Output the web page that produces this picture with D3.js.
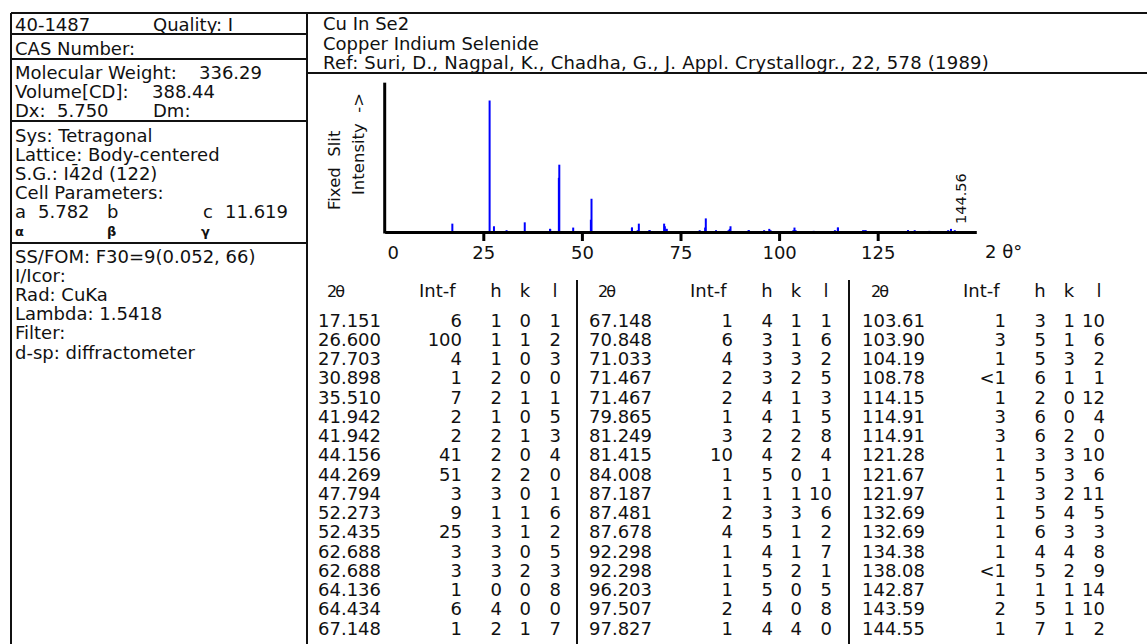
<!DOCTYPE html>
<html>
<head>
<meta charset="utf-8">
<script src="https://cdn.jsdelivr.net/npm/d3@7"></script>
<style>
  html, body { margin: 0; padding: 0; background: #fff; }
  svg text { font-family: "DejaVu Sans", sans-serif; fill: #111; white-space: pre; }
</style>
</head>
<body>
<svg id="card" width="1147" height="644"></svg>
<script>
// ---- Reflection list (CuInSe2, Cu Ka) ----
const twoTheta = [
  17.151, 26.600, 27.703, 30.898, 35.510, 41.942, 41.942, 44.156, 44.269, 47.794, 52.273, 52.435, 62.688, 62.688, 64.136, 64.434, 67.148,
  67.148, 70.848, 71.033, 71.467, 71.467, 79.865, 81.249, 81.415, 84.008, 87.187, 87.481, 87.678, 92.298, 92.298, 96.203, 97.507, 97.827,
  103.61, 103.90, 104.19, 108.78, 114.15, 114.91, 114.91, 121.28, 121.67, 121.97, 132.69, 132.69, 134.38, 138.08, 142.87, 143.59, 144.55
];
// relative intensity; 0.5 stands for "<1"
const intensity = [
  6, 100, 4, 1, 7, 2, 2, 41, 51, 3, 9, 25, 3, 3, 1, 6, 1,
  1, 6, 4, 2, 2, 1, 3, 10, 1, 1, 2, 4, 1, 1, 1, 2, 1,
  1, 3, 1, 0.5, 1, 3, 3, 1, 1, 1, 1, 1, 1, 0.5, 1, 2, 1
];
const millerH = [
  1, 1, 1, 2, 2, 1, 2, 2, 2, 3, 1, 3, 3, 3, 0, 4, 2,
  4, 3, 3, 3, 4, 4, 2, 4, 5, 1, 3, 5, 4, 5, 5, 4, 4,
  3, 5, 5, 6, 2, 6, 6, 3, 5, 3, 5, 6, 4, 5, 1, 5, 7
];
const millerK = [
  0, 1, 0, 0, 1, 0, 1, 0, 2, 0, 1, 1, 0, 2, 0, 0, 1,
  1, 1, 3, 2, 1, 1, 2, 2, 0, 1, 3, 1, 1, 2, 0, 0, 4,
  1, 1, 3, 1, 0, 0, 2, 3, 3, 2, 4, 3, 4, 2, 1, 1, 1
];
const millerL = [
  1, 2, 3, 0, 1, 5, 3, 4, 0, 1, 6, 2, 5, 3, 8, 0, 7,
  1, 6, 2, 5, 3, 5, 8, 4, 1, 10, 6, 2, 7, 1, 5, 8, 0,
  10, 6, 2, 1, 12, 4, 0, 10, 6, 11, 5, 3, 8, 9, 14, 10, 2
];
const rowsPerColumn = 17;
const xTicks = [0, 25, 50, 75, 100, 125];
const markedPeak = 144.56;

// ---- Card header texts ----
const headerLeft = ["40-1487", "Quality: I", "CAS Number:"];
const physData = ["Molecular Weight:", "336.29", "Volume[CD]:", "388.44", "Dx:", "5.750", "Dm:"];
const cellData = ["Sys: Tetragonal", "Lattice: Body-centered", "S.G.: I4\u03042d (122)", "Cell Parameters:",
                  "a", "5.782", "b", "c", "11.619"];
const angleSymbols = ["\u03b1", "\u03b2", "\u03b3"];
const expData = ["SS/FOM: F30=9(0.052, 66)", "I/Icor:", "Rad: CuKa", "Lambda: 1.5418", "Filter:", "d-sp: diffractometer"];
const titleLines = ["Cu In Se2", "Copper Indium Selenide",
  "Ref: Suri, D., Nagpal, K., Chadha, G., J. Appl. Crystallogr., 22, 578 (1989)"];
const tableHeads = ["2\u03b8", "Int-f", "h", "k", "l"];

// ---- drawing ----
const W = 1147, H = 644;
const ink = "#111";
const svg = d3.select("#card");
const FS = 18;

function hline(x1, x2, y, w = 2) {
  svg.append("line").attr("x1", x1).attr("x2", x2).attr("y1", y).attr("y2", y)
    .attr("stroke", ink).attr("stroke-width", w);
}
function vline(x, y1, y2, w = 2) {
  svg.append("line").attr("x1", x).attr("x2", x).attr("y1", y1).attr("y2", y2)
    .attr("stroke", ink).attr("stroke-width", w);
}
function txt(x, y, s, o = {}) {
  return svg.append("text").attr("x", x).attr("y", y)
    .attr("font-size", o.size || FS)
    .attr("text-anchor", o.anchor || "start")
    .attr("font-weight", o.weight || "normal")
    .attr("letter-spacing", o.ls || 0)
    .text(s);
}

// frame
const L = 11, T = 13, DIV = 307;
hline(L, W, T);
vline(L, T, H);
vline(DIV, T, H);
[34, 59, 121, 243].forEach(y => hline(L, DIV, y));
hline(DIV, W, 73);

// left information panel
const px = 15;
txt(px, 30.5, headerLeft[0]);
txt(153, 30.5, headerLeft[1]);
txt(px, 55, headerLeft[2]);

txt(px, 79, physData[0]); txt(199, 79, physData[1]);
txt(px, 98, physData[2]); txt(152, 98, physData[3]);
txt(px, 117, physData[4]); txt(57, 117, physData[5]); txt(153, 117, physData[6]);

const cellY0 = 141.5, step = 19.2;
txt(px, cellY0, cellData[0]);
txt(px, cellY0 + step, cellData[1]);
txt(px, cellY0 + 2 * step, cellData[2]);
txt(px, cellY0 + 3 * step, cellData[3]);
const aY = cellY0 + 4 * step;
txt(px, aY, cellData[4]); txt(38, aY, cellData[5]); txt(107, aY, cellData[6]);
txt(203, aY, cellData[7]); txt(225, aY, cellData[8]);

[px, 107, 201].forEach((x, i) => txt(x, 236, angleSymbols[i], { size: 13, weight: "bold" }));

expData.forEach((s, i) => txt(px, 263 + i * 19.1, s));

// title block
[30, 49.5, 68.5].forEach((yy, i) => txt(323, yy, titleLines[i], { ls: i === 2 ? 0.22 : 0 }));

// ---- stick pattern ----
const x = d3.scaleLinear().domain([0, 150]).range([384.7, 976.3]);
const y = d3.scaleLinear().domain([0, 100]).range([232, 101]);
const yTop = 114;

const chart = svg.append("g");
chart.selectAll("line.peak")
  .data(twoTheta.map((t, i) => ({ t, v: intensity[i] })))
  .join("line")
  .attr("class", "peak")
  .attr("x1", d => x(d.t)).attr("x2", d => x(d.t))
  .attr("y1", y(0)).attr("y2", d => y(d.v) - 0.5)
  .attr("stroke", "#0000ff").attr("stroke-width", 2);

// x axis
const xAxis = d3.axisBottom(x).tickValues(xTicks).tickSize(9).tickSizeOuter(0).tickPadding(5);
const gx = chart.append("g").attr("transform", `translate(0,${y(0)})`).call(xAxis);
gx.select(".domain").attr("stroke", "#000").attr("stroke-width", 3);
gx.selectAll(".tick line").attr("stroke", "#000").attr("stroke-width", 3)
  .attr("display", d => d === 0 ? "none" : null);
gx.selectAll(".tick text").attr("font-size", FS).attr("font-family", "DejaVu Sans").attr("fill", ink)
  .attr("dx", d => d === 0 ? 8 : 0);

// y axis line
chart.append("line").attr("x1", x(0)).attr("x2", x(0))
  .attr("y1", y(0) + 1.5).attr("y2", y(yTop))
  .attr("stroke", "#000").attr("stroke-width", 3);

// axis titles
txt(985, 258, "2 \u03b8\u00b0");
svg.append("text").attr("transform", `translate(340,210) rotate(-90)`)
  .attr("font-size", 16.5).text("Fixed  Slit");
svg.append("text").attr("transform", `translate(364,195) rotate(-90)`)
  .attr("font-size", 16.5).text("Intensity  ->");

// marked peak position
svg.append("text").attr("transform", `translate(${x(markedPeak) + 11},224) rotate(-90)`)
  .attr("font-size", 14.5).text(markedPeak.toFixed(2));

// ---- reflection table ----
const colStarts = [318, 589, 862];
const headY = 297, rowY0 = 326.5, rowStep = 19.25;
[577, 849].forEach(xd => vline(xd, 280, H));

colStarts.forEach((S, c) => {
  txt(S + 9, headY, tableHeads[0], { size: 16, ls: -2 });
  txt(S + 101, headY, tableHeads[1]);
  txt(S + 178, headY, tableHeads[2], { anchor: "middle" });
  txt(S + 207, headY, tableHeads[3], { anchor: "middle" });
  txt(S + 237, headY, tableHeads[4], { anchor: "middle" });

  for (let r = 0; r < rowsPerColumn; r++) {
    const i = c * rowsPerColumn + r;
    const yy = rowY0 + r * rowStep;
    const t = twoTheta[i];
    txt(S, yy, t >= 100 ? t.toFixed(2) : t.toFixed(3));
    txt(S + 144, yy, intensity[i] < 1 ? "<1" : String(intensity[i]), { anchor: "end" });
    txt(S + 184, yy, String(millerH[i]), { anchor: "end" });
    txt(S + 213, yy, String(millerK[i]), { anchor: "end" });
    txt(S + 243, yy, String(millerL[i]), { anchor: "end" });
  }
});
</script>
</body>
</html>
